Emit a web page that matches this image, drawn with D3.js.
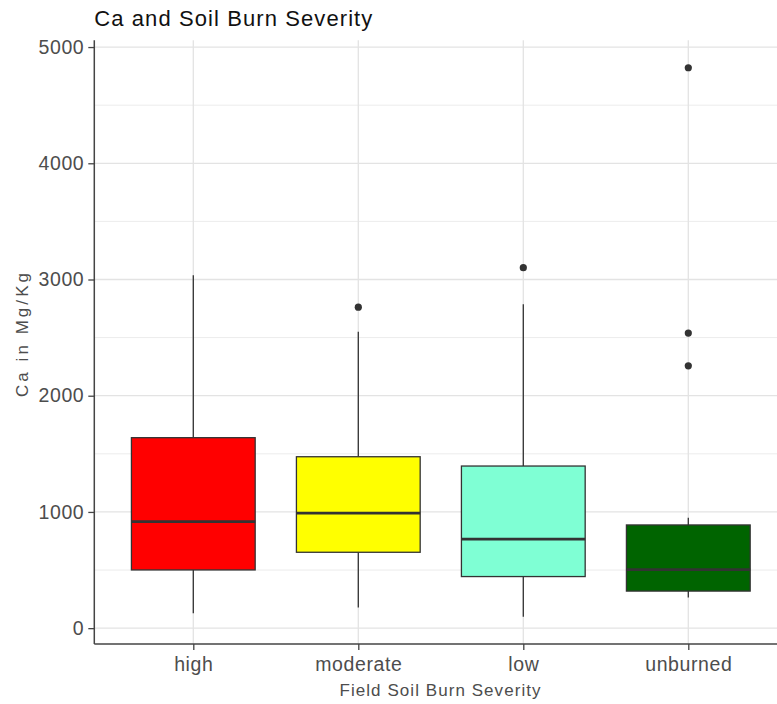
<!DOCTYPE html>
<html>
<head>
<meta charset="utf-8">
<script src="https://cdn.jsdelivr.net/npm/d3@7"></script>
<style>
  body { margin: 0; background: #fff; }
  text { font-family: "Liberation Sans", Arial, sans-serif; }
</style>
</head>
<body>
<div id="chart"></div>
<script>
// data
const categories = ["high", "moderate", "low", "unburned"];
const q1 = [501, 653, 444, 319];
const median = [917, 989, 766, 503];
const q3 = [1639, 1475, 1395, 888];
const whiskerLow = [129, 177, 99, 263];
const whiskerHigh = [3037, 2550, 2786, 951];
const outliers = [[], [2762], [3102], [4822, 2539, 2257]];
const fills = ["#FF0000", "#FFFF00", "#7FFFD4", "#006400"];
const yTicks = [0, 1000, 2000, 3000, 4000, 5000];
const yMinor = [500, 1500, 2500, 3500, 4500];

const W = 777, H = 704;
const panel = { left: 94.3, right: 787.3, top: 40.3, bottom: 644.1 };

const svg = d3.select("#chart")
    .append("svg")
    .attr("width", W)
    .attr("height", H)
    .style("display", "block");

svg.append("rect").attr("width", W).attr("height", H).attr("fill", "#fff");

// y range from data with 5% expansion like ggplot
const allVals = whiskerLow.concat(whiskerHigh, outliers.flat());
const lo = d3.min(allVals), hi = d3.max(allVals);
const pad = (hi - lo) * 0.05;

const y = d3.scaleLinear()
    .domain([lo - pad, hi + pad])
    .range([panel.bottom, panel.top]);

const x = d3.scalePoint()
    .domain(categories)
    .range([panel.left, panel.right])
    .padding(0.6);

const boxW = x.step() * 0.75;

// grid lines
const grid = svg.append("g");
grid.selectAll("line.minor")
    .data(yMinor)
    .join("line")
    .attr("x1", panel.left).attr("x2", panel.right)
    .attr("y1", d => y(d)).attr("y2", d => y(d))
    .attr("stroke", "#ececec").attr("stroke-width", 1);
grid.selectAll("line.major")
    .data(yTicks)
    .join("line")
    .attr("x1", panel.left).attr("x2", panel.right)
    .attr("y1", d => y(d)).attr("y2", d => y(d))
    .attr("stroke", "#e3e3e3").attr("stroke-width", 1.3);
grid.selectAll("line.vert")
    .data(categories)
    .join("line")
    .attr("x1", d => x(d)).attr("x2", d => x(d))
    .attr("y1", panel.top).attr("y2", panel.bottom)
    .attr("stroke", "#e3e3e3").attr("stroke-width", 1.3);

// boxes
const boxes = svg.append("g")
    .selectAll("g")
    .data(categories)
    .join("g");

boxes.append("line")
    .attr("x1", d => x(d)).attr("x2", d => x(d))
    .attr("y1", (d, i) => y(q3[i])).attr("y2", (d, i) => y(whiskerHigh[i]))
    .attr("stroke", "#333").attr("stroke-width", 1.3);
boxes.append("line")
    .attr("x1", d => x(d)).attr("x2", d => x(d))
    .attr("y1", (d, i) => y(q1[i])).attr("y2", (d, i) => y(whiskerLow[i]))
    .attr("stroke", "#333").attr("stroke-width", 1.3);

boxes.append("rect")
    .attr("x", d => x(d) - boxW / 2)
    .attr("width", boxW)
    .attr("y", (d, i) => y(q3[i]))
    .attr("height", (d, i) => y(q1[i]) - y(q3[i]))
    .attr("fill", (d, i) => fills[i])
    .attr("stroke", "#333").attr("stroke-width", 1.3);

boxes.append("line")
    .attr("x1", d => x(d) - boxW / 2).attr("x2", d => x(d) + boxW / 2)
    .attr("y1", (d, i) => y(median[i])).attr("y2", (d, i) => y(median[i]))
    .attr("stroke", "#333").attr("stroke-width", 2.8);

boxes.selectAll("circle")
    .data((d, i) => outliers[i].map(v => ({ cat: d, v: v })))
    .join("circle")
    .attr("cx", d => x(d.cat))
    .attr("cy", d => y(d.v))
    .attr("r", 3.6)
    .attr("fill", "#333");

// axes
const yAxis = svg.append("g")
    .attr("transform", `translate(${panel.left},0)`)
    .call(d3.axisLeft(y).tickValues(yTicks).tickFormat(d3.format("d"))
        .tickSize(6).tickPadding(4).tickSizeOuter(0));
const xAxis = svg.append("g")
    .attr("transform", `translate(0,${panel.bottom})`)
    .call(d3.axisBottom(x).tickSize(6).tickPadding(4).tickSizeOuter(0));

[yAxis, xAxis].forEach(a => {
    a.select(".domain").attr("stroke", "#444").attr("stroke-width", 1.5);
    a.selectAll(".tick line").attr("stroke", "#444").attr("stroke-width", 1.3);
    a.selectAll(".tick text")
        .attr("fill", "#4d4d4d")
        .style("font-family", "Liberation Sans, Arial, sans-serif")
        .style("font-size", "19.5px")
        .style("letter-spacing", "0.6px");
});
yAxis.select(".domain").attr("d", `M0,${panel.top}V${panel.bottom}`);
xAxis.select(".domain").attr("d", `M${panel.left},0H${panel.right}`);
xAxis.selectAll(".tick text").attr("dy", "0.85em");

// titles
svg.append("text")
    .attr("x", panel.left)
    .attr("y", 26)
    .attr("font-size", "22px")
    .attr("fill", "#111")
    .attr("textLength", 278)
    .attr("lengthAdjust", "spacing")
    .text("Ca and Soil Burn Severity");

svg.append("text")
    .attr("x", 440)
    .attr("y", 696)
    .attr("text-anchor", "middle")
    .attr("font-size", "17px")
    .attr("fill", "#4d4d4d")
    .attr("textLength", 201)
    .attr("lengthAdjust", "spacing")
    .text("Field Soil Burn Severity");

svg.append("text")
    .attr("transform", "translate(28,335) rotate(-90)")
    .attr("text-anchor", "middle")
    .attr("font-size", "17px")
    .attr("fill", "#4d4d4d")
    .attr("textLength", 124)
    .attr("lengthAdjust", "spacing")
    .text("Ca in Mg/Kg");
</script>
</body>
</html>
